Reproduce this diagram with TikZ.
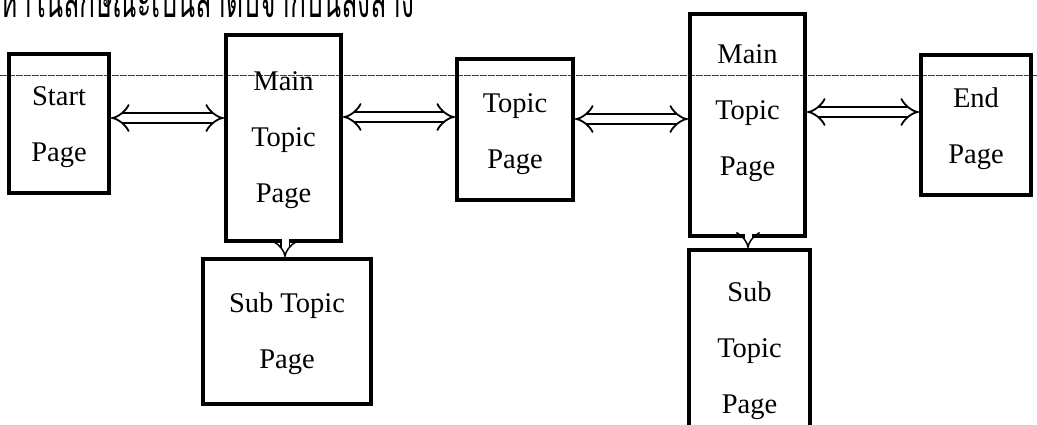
\documentclass[tikz,border=0pt]{standalone}
\usepackage{fontspec}
\setmainfont{Liberation Serif}
\newfontfamily\thaifont[Script=Thai, FakeStretch=0.55]{Loma}
\usetikzlibrary{arrows.meta}
\tikzset{
  pagebox/.style  = {shape=rectangle, draw, line width=4pt,
                     anchor=center, inner sep=0pt},
  pagetext/.style = {anchor=center, align=center, inner sep=0pt,
                     font=\fontsize{28.5}{56}\selectfont},
  link/.style     = {double=white, double distance=8pt, line width=1.8pt,
                     {Implies[length=20pt, width=22pt]}-{Implies[length=20pt, width=22pt]}},
  uplink/.style   = {double=white, double distance=7pt, line width=1.5pt,
                     shorten <=-4pt, -{Implies[length=9pt, width=24pt]}},
  headline/.style = {anchor=base west, inner sep=0pt,
                     font=\thaifont\fontsize{48}{50}\selectfont},
  scanline/.style = {line width=0.8pt, black!75, dash pattern=on 7pt off 1pt}
}

\begin{document}
\begin{tikzpicture}[x=1pt, y=-1pt]
  \useasboundingbox (0,0) rectangle (1037,424);
  \clip (0,0) rectangle (1037,424);

  \node[headline] (caption) at (0,17) {หาในลักษณะเป็นลำดับจากบนลงล่าง};
  \draw[scanline] (0,75) -- (1037,75);

  % top row
  \node[pagebox, minimum width=100pt, minimum height=139pt] (start) at (59,123.5) {};
  \node[pagebox, minimum width=115pt, minimum height=206pt] (main1) at (283.5,138) {};
  \node[pagebox, minimum width=116pt, minimum height=141pt] (topic) at (515,129.5) {};
  \node[pagebox, minimum width=115pt, minimum height=222pt] (main2) at (747.5,125) {};
  \node[pagebox, minimum width=110pt, minimum height=140pt] (end) at (976,125) {};

  % sub pages
  \node[pagebox, minimum width=168pt, minimum height=145pt] (sub1) at (287,331.5) {};
  \node[pagebox, minimum width=121pt, minimum height=188pt] (sub2) at (749.5,344) {};

  % texts
  \node[pagetext] (start-t) at (59,127.5)   {Start\\Page};
  \node[pagetext] (main1-t) at (283.5,140)  {Main\\Topic\\Page};
  \node[pagetext] (topic-t) at (515,134.5)  {Topic\\Page};
  \node[pagetext] (main2-t) at (747.5,113)  {Main\\Topic\\Page};
  \node[pagetext] (end-t)   at (976,129)    {End\\Page};
  \node[pagetext] (sub1-t)  at (287,333.5)  {Sub Topic\\Page};
  \node[pagetext] (sub2-t)  at (749.5,351)  {Sub\\Topic\\Page};

  \draw[link] (start.east |- 0,118) -- (main1.west |- 0,118);
  \draw[link] (main1.east |- 0,117) -- (topic.west |- 0,117);
  \draw[link] (topic.east |- 0,119) -- (main2.west |- 0,119);
  \draw[link] (main2.east |- 0,112) -- (end.west |- 0,112);

  \draw[uplink] (main1.south -| 285,0) -- (sub1.north -| 285,0);
  \draw[uplink] (main2.south -| 748,0) -- (sub2.north -| 748,0);
\end{tikzpicture}
\end{document}
